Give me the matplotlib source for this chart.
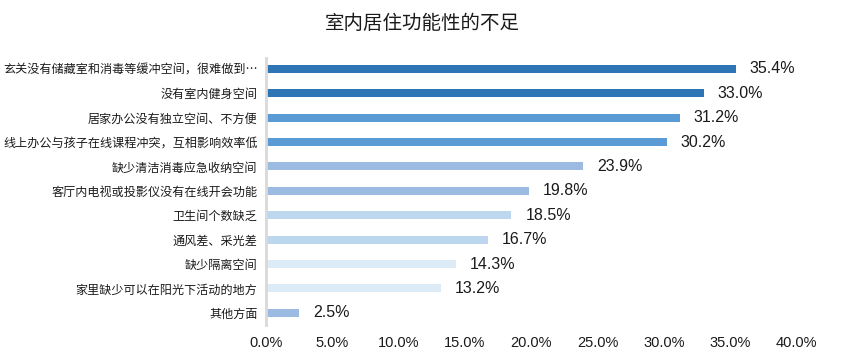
import matplotlib
matplotlib.use("Agg")
import matplotlib.pyplot as plt
from matplotlib.ticker import FuncFormatter

plt.rcParams['font.family'] = ['Noto Sans CJK SC', 'DejaVu Sans']
num_font = ['Liberation Sans', 'DejaVu Sans']

# 数据
categories = [
    '玄关没有储藏室和消毒等缓冲空间，很难做到…',
    '没有室内健身空间',
    '居家办公没有独立空间、不方便',
    '线上办公与孩子在线课程冲突，互相影响效率低',
    '缺少清洁消毒应急收纳空间',
    '客厅内电视或投影仪没有在线开会功能',
    '卫生间个数缺乏',
    '通风差、采光差',
    '缺少隔离空间',
    '家里缺少可以在阳光下活动的地方',
    '其他方面',
]
values = [35.4, 33.0, 31.2, 30.2, 23.9, 19.8, 18.5, 16.7, 14.3, 13.2, 2.5]
colors = ['#2E75B6', '#2E75B6', '#5B9BD5', '#5B9BD5', '#9BBBE2', '#9BBBE2',
          '#BDD7EE', '#BDD7EE', '#DDEBF7', '#DDEBF7', '#9BBBE2']
xticks = [0, 5, 10, 15, 20, 25, 30, 35, 40]

fig = plt.figure(figsize=(8.44, 3.64), dpi=100)
ax = fig.add_axes([0.315, 0.107, 0.629, 0.734])

y = list(range(len(categories)))
ax.barh(y, values, height=0.33, color=colors)

# 数值标签
for yi, v in zip(y, values):
    ax.text(v + 1.05, yi, f'{v:.1f}%', va='center', ha='left', fontsize=11.5,
            color='#1a1a1a', family=num_font)

ax.set_xlim(0, 40)
ax.set_ylim(10.5, -0.45)
ax.set_xticks(xticks)
ax.xaxis.set_major_formatter(FuncFormatter(lambda x, p: f'{x:.1f}%'))
ax.set_yticks(y)
ax.set_yticklabels(categories)
ax.tick_params(axis='y', length=0, pad=6, labelsize=8.7, labelcolor='#1a1a1a')
ax.tick_params(axis='x', length=0, pad=8, labelsize=10.5, labelcolor='#1a1a1a')
for lbl in ax.get_xticklabels():
    lbl.set_family(num_font)

for s in ['top', 'right', 'bottom']:
    ax.spines[s].set_visible(False)
ax.spines['left'].set_color('#d9d9d9')
ax.spines['left'].set_linewidth(2)

fig.text(0.5, 0.935, '室内居住功能性的不足', ha='center', va='center', fontsize=14, color='#1a1a1a')

fig.savefig('out.png', dpi=100)
